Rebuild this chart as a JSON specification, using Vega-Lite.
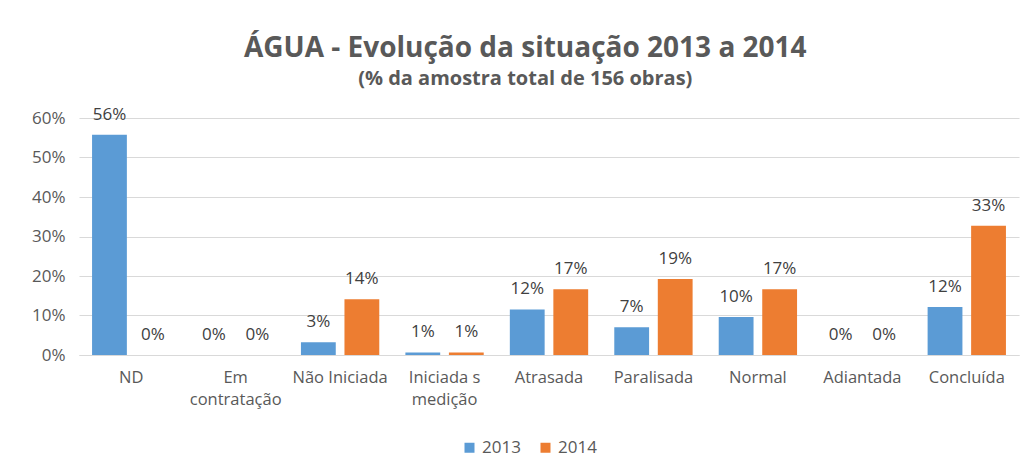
{
  "$schema": "https://vega.github.io/schema/vega-lite/v6.json",
  "width": 940,
  "height": 237,
  "padding": {"left": 31, "top": 34, "right": 10, "bottom": 10},
  "background": "white",
  "title": {
    "text": "ÁGUA - Evolução da situação 2013 a 2014",
    "subtitle": "(% da amostra total de 156 obras)",
    "font": "Open Sans",
    "fontSize": 28,
    "fontWeight": "bold",
    "color": "#595959",
    "subtitleFont": "Open Sans",
    "subtitleFontSize": 20,
    "subtitleFontWeight": "bold",
    "subtitleColor": "#595959",
    "subtitlePadding": 6,
    "anchor": "middle",
    "frame": "bounds",
    "offset": 17
  },
  "data": {
    "values": [
      {"situacao": "ND", "ano": "2013", "pct": 0.5577},
      {"situacao": "ND", "ano": "2014", "pct": 0},
      {"situacao": "Em contratação", "ano": "2013", "pct": 0},
      {"situacao": "Em contratação", "ano": "2014", "pct": 0},
      {"situacao": "Não Iniciada", "ano": "2013", "pct": 0.0321},
      {"situacao": "Não Iniciada", "ano": "2014", "pct": 0.141},
      {"situacao": "Iniciada s medição", "ano": "2013", "pct": 0.0064},
      {"situacao": "Iniciada s medição", "ano": "2014", "pct": 0.0064},
      {"situacao": "Atrasada", "ano": "2013", "pct": 0.1154},
      {"situacao": "Atrasada", "ano": "2014", "pct": 0.1667},
      {"situacao": "Paralisada", "ano": "2013", "pct": 0.0705},
      {"situacao": "Paralisada", "ano": "2014", "pct": 0.1923},
      {"situacao": "Normal", "ano": "2013", "pct": 0.0962},
      {"situacao": "Normal", "ano": "2014", "pct": 0.1667},
      {"situacao": "Adiantada", "ano": "2013", "pct": 0},
      {"situacao": "Adiantada", "ano": "2014", "pct": 0},
      {"situacao": "Concluída", "ano": "2013", "pct": 0.1218},
      {"situacao": "Concluída", "ano": "2014", "pct": 0.3269}
    ]
  },
  "encoding": {
    "x": {
      "field": "situacao",
      "type": "nominal",
      "sort": null,
      "title": null,
      "scale": {"paddingInner": 0.25, "paddingOuter": 0.125},
      "axis": {
        "labelAngle": 0,
        "labelFont": "Open Sans",
        "labelFontSize": 16.5,
        "labelColor": "#595959",
        "labelPadding": 14,
        "labelLineHeight": 22,
        "labelBaseline": "top",
        "ticks": false,
        "domainColor": "#d9d9d9",
        "labelExpr": "datum.value == 'Em contratação' ? ['Em', 'contratação'] : datum.value == 'Iniciada s medição' ? ['Iniciada s', 'medição'] : datum.value"
      }
    },
    "xOffset": {"field": "ano", "type": "nominal", "scale": {"paddingInner": 0.2}},
    "y": {
      "field": "pct",
      "type": "quantitative",
      "title": null,
      "scale": {"domain": [0, 0.6]},
      "axis": {
        "format": ".0%",
        "values": [0, 0.1, 0.2, 0.3, 0.4, 0.5, 0.6],
        "labelFont": "Open Sans",
        "labelFontSize": 17,
        "labelColor": "#595959",
        "labelPadding": 14,
        "ticks": false,
        "domain": false,
        "gridColor": "#d9d9d9"
      }
    },
    "color": {
      "field": "ano",
      "type": "nominal",
      "title": null,
      "scale": {"domain": ["2013", "2014"], "range": ["#5b9bd5", "#ed7d31"]},
      "legend": {
        "orient": "none",
        "legendX": 382,
        "legendY": 321,
        "direction": "horizontal",
        "symbolType": "square",
        "symbolSize": 100,
        "symbolStrokeWidth": 0,
        "labelFont": "Open Sans",
        "labelFontSize": 17,
        "labelColor": "#595959",
        "columnPadding": 16
      }
    }
  },
  "layer": [
    {"mark": {"type": "bar"}},
    {
      "mark": {"type": "text", "dy": -20, "font": "Open Sans", "fontSize": 17},
      "encoding": {
        "text": {"field": "pct", "type": "quantitative", "format": ".0%"},
        "color": {"value": "#404040"}
      }
    }
  ],
  "config": {
    "view": {"stroke": null}
  }
}
